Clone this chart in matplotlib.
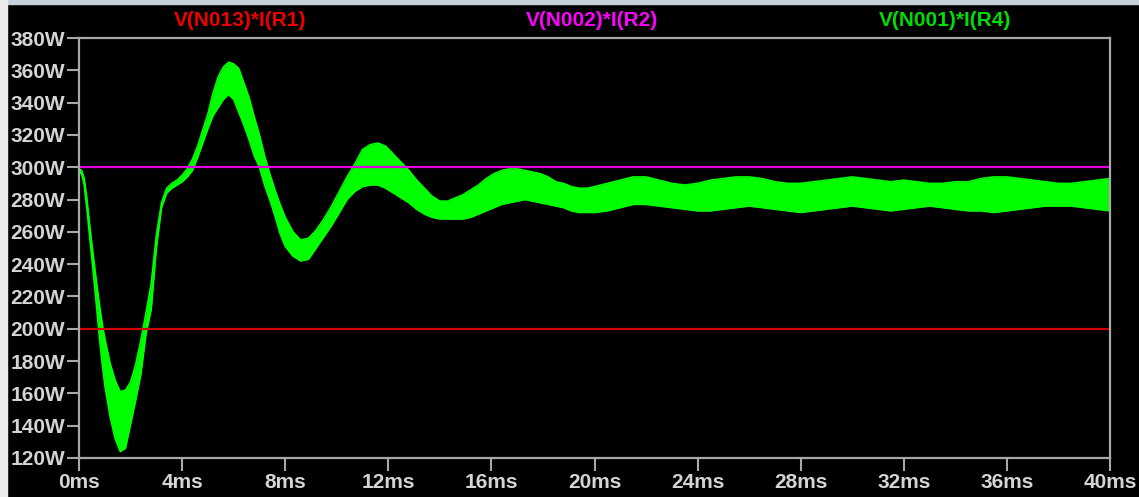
import numpy as np
import matplotlib
matplotlib.use("Agg")
import matplotlib.pyplot as plt
from matplotlib.patches import Rectangle

# envelope of the V(N001)*I(R4) trace (ms, W)
t_ms = [0, 0.1, 0.2, 0.3, 0.4, 0.5, 0.6, 0.7, 0.8, 0.9, 1.0, 1.2, 1.4, 1.6, 1.8,
        2.0, 2.2, 2.4, 2.6, 2.8, 3.0, 3.2, 3.4, 3.6, 3.8, 4.0, 4.2, 4.4, 4.6, 4.8,
        5.0, 5.2, 5.4, 5.6, 5.8, 6.0, 6.2, 6.4, 6.6, 6.8, 7.0, 7.2, 7.4, 7.6, 7.8,
        8.0, 8.3, 8.6, 8.9, 9.2, 9.5, 9.8, 10.1, 10.4, 10.7, 11.0, 11.3, 11.6, 11.9,
        12.2, 12.5, 12.8, 13.1, 13.4, 13.7, 14.0, 14.3, 14.6, 14.9, 15.2, 15.5, 15.8,
        16.1, 16.4, 16.7, 17.0, 17.3, 17.6, 17.9, 18.2, 18.5, 18.8, 19.1, 19.4, 19.7,
        20.0, 20.5, 21.0, 21.5, 22.0, 22.5, 23.0, 23.5, 24.0, 24.5, 25.0, 25.5, 26.0,
        26.5, 27.0, 27.5, 28.0, 28.5, 29.0, 29.5, 30.0, 30.5, 31.0, 31.5, 32.0, 32.5,
        33.0, 33.5, 34.0, 34.5, 35.0, 35.5, 36.0, 36.5, 37.0, 37.5, 38.0, 38.5, 39.0,
        39.5, 40.0]
upper_w = [299, 298, 293, 281, 266, 252, 239, 226, 214, 203, 194, 179, 168, 161, 162,
           167, 178, 193, 210, 228, 258, 278, 287, 290, 292, 295, 299, 305, 313, 323,
           333, 346, 356, 362, 365, 364, 361, 352, 343, 331, 320, 307, 296, 286, 277,
           269, 260, 255, 256, 261, 268, 276, 285, 294, 302, 311, 314, 315, 313,
           308, 303, 298, 292, 287, 282, 279, 279, 281, 283, 286, 289, 293,
           296, 298, 299, 299, 298, 297, 296, 294, 291, 290, 288, 287, 287,
           288, 290, 292, 294, 294, 292, 290, 289, 290, 292, 293, 294, 294,
           293, 291, 290, 290, 291, 292, 293, 294, 293, 292, 291, 292, 291,
           290, 290, 291, 291, 293, 294, 294, 293, 292, 291, 290, 290, 291,
           292, 293]
lower_w = [297, 296, 289, 275, 259, 243, 227, 210, 193, 178, 165, 146, 132, 124, 126,
           141, 156, 172, 197, 212, 250, 275, 284, 287, 289, 291, 294, 298, 306, 315,
           324, 332, 337, 342, 345, 342, 334, 326, 317, 307, 300, 289, 280, 270, 259,
           251, 245, 242, 243, 250, 257, 264, 272, 280, 285, 288, 289, 289, 287,
           284, 281, 278, 274, 271, 269, 268, 268, 268, 268, 269, 271, 273,
           275, 277, 278, 279, 280, 279, 278, 277, 276, 275, 273, 272, 272,
           272, 273, 275, 277, 277, 276, 275, 274, 273, 273, 274, 275, 276,
           275, 274, 273, 272, 273, 274, 275, 276, 275, 274, 273, 274, 275,
           276, 275, 274, 273, 273, 272, 273, 274, 275, 276, 276, 276, 275,
           274, 273]

r1_level = 200   # V(N013)*I(R1)
r2_level = 300   # V(N002)*I(R2)

xticks = list(range(0, 41, 4))
yticks = list(range(120, 381, 20))

fig = plt.figure(figsize=(11.39, 4.97), dpi=100, facecolor="black")
ax = fig.add_axes([0.0694, 0.0785, 0.9051, 0.845])
ax.set_facecolor("black")

ax.fill_between(t_ms, lower_w, upper_w, color="#00ff00", linewidth=0)
ax.plot(t_ms, upper_w, color="#00ff00", lw=1.2)
ax.plot(t_ms, lower_w, color="#00ff00", lw=1.2)
ax.axhline(r2_level, color="#e000e0", lw=1.6)
ax.axhline(r1_level, color="#d00000", lw=1.6)

ax.set_xlim(0, 40)
ax.set_ylim(120, 380)
ax.set_xticks(xticks)
ax.set_xticklabels([f"{v}ms" for v in xticks])
ax.set_yticks(yticks)
ax.set_yticklabels([f"{v}W" for v in yticks])

font = dict(family="Liberation Sans", weight="bold", size=15)
for lab in ax.get_xticklabels() + ax.get_yticklabels():
    lab.set_fontfamily("Liberation Sans")
    lab.set_fontweight("bold")
    lab.set_fontsize(15)
    lab.set_color("#d4d4d4")
ax.tick_params(axis="both", color="#a8a8a8", width=1.5, length=9, direction="out")
ax.tick_params(axis="y", pad=1)
ax.tick_params(axis="x", pad=2)
for s in ax.spines.values():
    s.set_color("#a8a8a8")
    s.set_linewidth(1.6)

fig.text(0.211, 0.958, "V(N013)*I(R1)", color="#ee0000", ha="center", va="center", **font)
fig.text(0.520, 0.958, "V(N002)*I(R2)", color="#ff00ff", ha="center", va="center", **font)
fig.text(0.830, 0.958, "V(N001)*I(R4)", color="#00dd00", ha="center", va="center", **font)

# window edges
fig.patches.append(Rectangle((0, 0.992), 1, 0.008, transform=fig.transFigure,
                             color="#c8d0dc", zorder=5))
fig.patches.append(Rectangle((0, 0), 0.006, 1, transform=fig.transFigure,
                             color="#ececec", zorder=5))

fig.savefig("out.png", dpi=100, facecolor="black")
